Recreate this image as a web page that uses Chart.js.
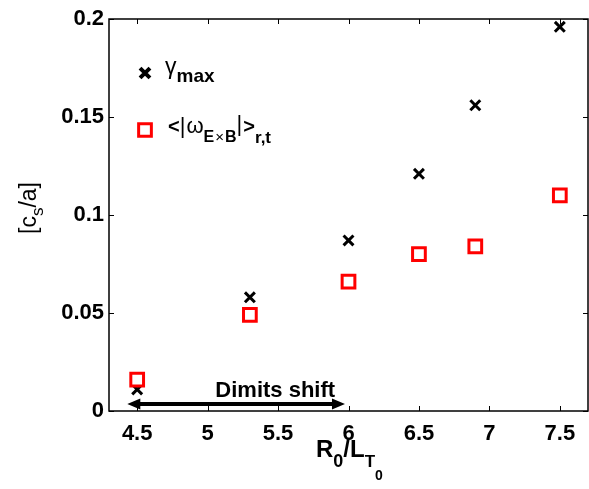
<!DOCTYPE html>
<html lang="en">
<head>
<meta charset="UTF-8">
<title>Growth rate and E x B shearing rate</title>
<script src="https://cdn.jsdelivr.net/npm/chart.js"></script>
<style>
    html, body { margin: 0; padding: 0; background: #fff; }
    #wrap { width: 589px; height: 489px; }
</style>
</head>
<body>
<div id="wrap"><canvas id="chart" width="589" height="489"></canvas></div>
<script>
// R0/LT0 scan
const gradients = [4.5, 5.3, 6.0, 6.5, 6.9, 7.5];
const gammaMax = [0.011, 0.058, 0.087, 0.121, 0.156, 0.196];
const shearRate = [0.016, 0.049, 0.066, 0.080, 0.084, 0.110];

const xTicks = [4.5, 5, 5.5, 6, 6.5, 7, 7.5];
const yTicks = [0, 0.05, 0.1, 0.15, 0.2];
const yTickLabels = ['0', '0.05', '0.1', '0.15', '0.2'];

// Dimits shift arrow and its label, in axis units
const dimitsFrom = 4.43;
const dimitsTo = 5.975;
const dimitsY = 0.0036;
const dimitsLabelX = 5.48;

const FONT = '"Liberation Sans", Arial, Helvetica, sans-serif';
const bold = s => 'bold ' + s + 'px ' + FONT;
const plain = s => s + 'px ' + FONT;

// draws a row of text pieces (for sub/superscripts)
function runsWidth(ctx, runs) {
    let w = 0;
    runs.forEach(r => { ctx.font = r.font; w += ctx.measureText(r.text).width + (r.gap || 0); });
    return w;
}
function drawRuns(ctx, x, y, runs) {
    runs.forEach(r => {
        ctx.font = r.font;
        ctx.fillText(r.text, x, y + (r.dy || 0));
        x += ctx.measureText(r.text).width + (r.gap || 0);
    });
}

const decorations = {
    id: 'decorations',
    afterDraw(chart) {
        const ctx = chart.ctx;
        const a = chart.chartArea;
        const xs = chart.scales.x, ys = chart.scales.y;
        ctx.save();
        ctx.strokeStyle = '#000';
        ctx.fillStyle = '#000';
        ctx.textBaseline = 'alphabetic';

        // box and inward ticks
        ctx.lineWidth = 1.5;
        ctx.strokeRect(a.left, a.top, a.right - a.left, a.bottom - a.top);
        const tl = 5;
        ctx.lineWidth = 1;
        ctx.beginPath();
        xTicks.forEach(v => {
            const px = Math.round(xs.getPixelForValue(v)) + 0.5;
            ctx.moveTo(px, a.bottom); ctx.lineTo(px, a.bottom - tl);
            ctx.moveTo(px, a.top); ctx.lineTo(px, a.top + tl);
        });
        yTicks.forEach(v => {
            const py = Math.round(ys.getPixelForValue(v)) + 0.5;
            ctx.moveTo(a.left, py); ctx.lineTo(a.left + tl, py);
            ctx.moveTo(a.right, py); ctx.lineTo(a.right - tl, py);
        });
        ctx.stroke();

        // Dimits shift arrow
        const x0 = xs.getPixelForValue(dimitsFrom);
        const x1 = xs.getPixelForValue(dimitsTo);
        const ay = ys.getPixelForValue(dimitsY);
        const hl = 13, hw = 5.5;
        ctx.lineWidth = 4;
        ctx.beginPath();
        ctx.moveTo(x0 + hl - 2, ay); ctx.lineTo(x1 - hl + 2, ay);
        ctx.stroke();
        ctx.beginPath();
        ctx.moveTo(x0, ay); ctx.lineTo(x0 + hl, ay - hw); ctx.lineTo(x0 + hl, ay + hw); ctx.closePath();
        ctx.moveTo(x1, ay); ctx.lineTo(x1 - hl, ay - hw); ctx.lineTo(x1 - hl, ay + hw); ctx.closePath();
        ctx.fill();
        ctx.font = bold(22);
        ctx.textAlign = 'center';
        ctx.fillText('Dimits shift', xs.getPixelForValue(dimitsLabelX), ay - 7);
        ctx.textAlign = 'left';

        // x axis title R0/LT0
        drawRuns(ctx, 316, 457, [
            { text: 'R', font: bold(24) },
            { text: '0', font: bold(18), dy: 10 },
            { text: '/L', font: bold(24) },
            { text: 'T', font: bold(17), dy: 10 },
            { text: '0', font: bold(14), dy: 23 }
        ]);

        // y axis title [cs/a]
        const yTitle = [
            { text: '[c', font: plain(23) },
            { text: 's', font: plain(17), dy: 7 },
            { text: '/a]', font: plain(23) }
        ];
        const yw = runsWidth(ctx, yTitle);
        ctx.save();
        ctx.translate(36, 208);
        ctx.rotate(-Math.PI / 2);
        drawRuns(ctx, -yw / 2, 0, yTitle);
        ctx.restore();

        // legend
        const lx = 145;
        Chart.helpers.drawPoint(ctx, { pointStyle: 'crossRot', radius: 7, borderWidth: 3 }, lx, 73);
        ctx.strokeStyle = '#ff0000';
        ctx.fillStyle = '#fff';
        ctx.lineWidth = 3;
        Chart.helpers.drawPoint(ctx, { pointStyle: 'rect', radius: 9, borderWidth: 3 }, lx, 130);
        ctx.fillStyle = '#000';
        drawRuns(ctx, 165, 74, [
            { text: 'γ', font: plain(23) },
            { text: 'max', font: bold(19), dy: 8 }
        ]);
        drawRuns(ctx, 168, 133, [
            { text: '<', font: bold(20) },
            { text: '|', font: plain(22), gap: 1 },
            { text: 'ω', font: plain(22) },
            { text: 'E', font: bold(16), dy: 9, gap: 1 },
            { text: '×', font: plain(15), dy: 9, gap: 1 },
            { text: 'B', font: bold(16), dy: 9 },
            { text: '|', font: plain(22), dy: -2, gap: 1 },
            { text: '>', font: bold(20) },
            { text: 'r,t', font: bold(17), dy: 10 }
        ]);
        ctx.restore();
    }
};

const tickFont = { family: FONT, size: 22, weight: 'bold' };

new Chart(document.getElementById('chart'), {
    type: 'scatter',
    data: {
        datasets: [
            {
                label: 'γmax',
                data: gradients.map((x, i) => ({ x: x, y: gammaMax[i] })),
                pointStyle: 'crossRot',
                pointRadius: 7,
                pointHoverRadius: 7,
                borderColor: '#000',
                backgroundColor: '#000',
                borderWidth: 3,
                order: 1
            },
            {
                label: '<|ωExB|>r,t',
                data: gradients.map((x, i) => ({ x: x, y: shearRate[i] })),
                pointStyle: 'rect',
                pointRadius: 9,
                pointHoverRadius: 9,
                borderColor: '#ff0000',
                backgroundColor: '#fff',
                borderWidth: 3,
                order: 0
            }
        ]
    },
    options: {
        responsive: false,
        animation: false,
        layout: { autoPadding: false, padding: { top: 19, right: 1, left: 0, bottom: 0 } },
        plugins: { legend: { display: false }, tooltip: { enabled: false } },
        scales: {
            x: {
                type: 'linear',
                min: 4.3,
                max: 7.7,
                afterBuildTicks: s => { s.ticks = xTicks.map(v => ({ value: v })); },
                afterFit: s => { s.height = 78; s.paddingLeft = 0; s.paddingRight = 0; },
                ticks: { font: tickFont, color: '#000', padding: 10, maxRotation: 0, callback: v => String(v) },
                grid: { display: false, drawTicks: false },
                border: { display: false }
            },
            y: {
                min: 0,
                max: 0.2,
                afterBuildTicks: s => { s.ticks = yTicks.map(v => ({ value: v })); },
                afterFit: s => { s.width = 109; s.paddingTop = 0; s.paddingBottom = 0; },
                ticks: { font: tickFont, color: '#000', padding: 5, callback: (v, i) => yTickLabels[i] },
                grid: { display: false, drawTicks: false },
                border: { display: false }
            }
        }
    },
    plugins: [decorations]
});
</script>
</body>
</html>
